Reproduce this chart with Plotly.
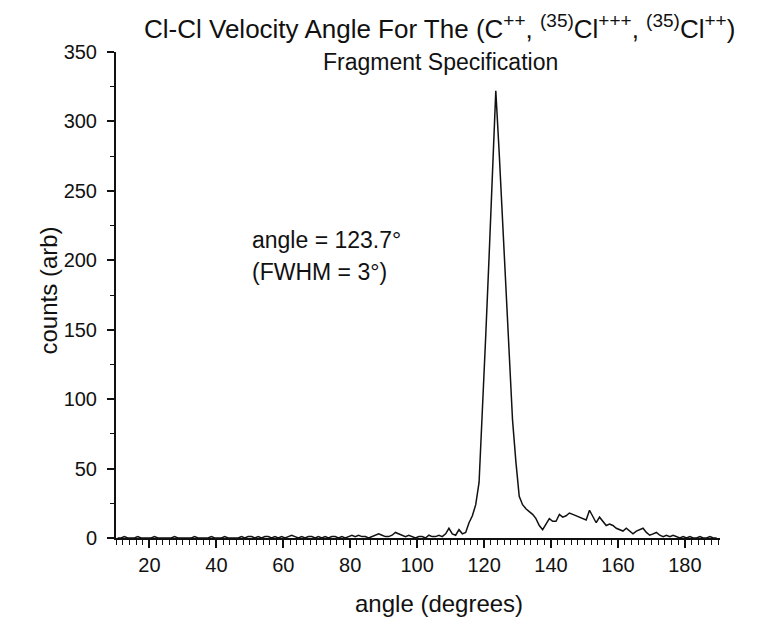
import plotly.graph_objects as go

# Data: angle bin centres (degrees) and counts
angles = [10.5 + i for i in range(180)]
counts = [
    # 10.5 - 49.5
    0, 0, 1, 0, 0, 0, 1, 0, 0, 0,
    0, 1, 0, 0, 0, 0, 0, 1, 0, 0,
    0, 0, 0, 1, 0, 0, 0, 0, 1, 0,
    0, 0, 1, 0, 0, 0, 0, 1, 0, 1,
    # 50.5 - 79.5
    1, 0, 1, 0, 1, 1, 0, 1, 0, 1,
    0, 1, 2, 1, 0, 1, 0, 1, 1, 0,
    1, 0, 1, 0, 1, 1, 0, 1, 0, 1,
    # 80.5 - 109.5
    2, 1, 2, 1, 1, 0, 1, 2, 3, 2,
    1, 1, 2, 4, 3, 2, 1, 2, 1, 0,
    1, 1, 0, 2, 1, 1, 2, 1, 3, 7,
    # 110.5 - 118.5
    3, 2, 6, 3, 4, 11, 16, 24, 40,
    # 119.5 - 189.5
    88, 146, 203, 262, 322, 278, 229, 180, 131, 85,
    55, 30, 24, 21, 19, 17, 14, 9, 6, 10,
    14, 12, 12, 17, 15, 16, 18, 17, 16, 15,
    14, 13, 20, 15, 11, 15, 12, 9, 10, 9,
    7, 6, 5, 7, 5, 3, 5, 6, 7, 4,
    2, 3, 4, 2, 1, 2, 1, 2, 1, 0,
    1, 0, 1, 0, 0, 1, 0, 0, 1, 0,
    0,
]

x_ticks = [20, 40, 60, 80, 100, 120, 140, 160, 180]
y_ticks = [0, 50, 100, 150, 200, 250, 300, 350]


def sup(t):
    return '<sup><span style="font-size:19px">' + t + '</span></sup>'


title_line1 = ("Cl-Cl Velocity Angle For The (C" + sup("++") + ", " + sup("(35)") + "Cl" + sup("+++")
               + ", " + sup("(35)") + "Cl" + sup("++") + ")")
title_line2 = "Fragment Specification"
note_line1 = "angle = 123.7°"
note_line2 = "(FWHM = 3°)"
x_title = "angle (degrees)"
y_title = "counts (arb)"

FONT = "Liberation Sans, Arial, sans-serif"
INK = "#111111"

fig = go.Figure()
fig.add_trace(go.Scatter(
    x=angles, y=counts, mode="lines",
    line=dict(color=INK, width=1.5),
    showlegend=False,
))

fig.update_layout(
    width=757, height=617,
    margin=dict(l=116, r=37, t=52, b=79),
    paper_bgcolor="white", plot_bgcolor="white",
    font=dict(family=FONT, color=INK, size=20),
    showlegend=False,
)

fig.update_xaxes(
    range=[10, 190.5],
    tickmode="array", tickvals=x_ticks, ticktext=[str(v) for v in x_ticks],
    ticks="outside", ticklen=8, tickwidth=2, tickcolor=INK,
    minor=dict(dtick=2, tick0=0, ticks="outside", ticklen=5, tickwidth=1.3, tickcolor=INK),
    showline=True, linecolor=INK, linewidth=2,
    showgrid=False, zeroline=False,
    tickfont=dict(size=20),
)
fig.update_yaxes(
    range=[0, 350],
    tickmode="array", tickvals=y_ticks, ticktext=[str(v) for v in y_ticks],
    ticks="outside", ticklen=7, tickwidth=2, tickcolor=INK,
    minor=dict(dtick=25, tick0=0, ticks="outside", ticklen=4, tickwidth=1.3, tickcolor=INK),
    showline=True, linecolor=INK, linewidth=2,
    showgrid=False, zeroline=False,
    tickfont=dict(size=20),
    ticklabelstandoff=6,
)

# Title (two lines)
fig.add_annotation(text=title_line1, xref="paper", yref="paper", x=0.535, y=1.052,
                   xanchor="center", yanchor="middle", showarrow=False, font=dict(size=26))
fig.add_annotation(text=title_line2, xref="paper", yref="paper", x=0.537, y=0.979,
                   xanchor="center", yanchor="middle", showarrow=False, font=dict(size=23))
# Axis titles
fig.add_annotation(text=x_title, xref="paper", yref="paper", x=0.535, y=-0.134,
                   xanchor="center", yanchor="middle", showarrow=False, font=dict(size=24))
fig.add_annotation(text=y_title, xref="paper", yref="paper", x=-0.112, y=0.51,
                   xanchor="center", yanchor="middle", textangle=-90, showarrow=False,
                   font=dict(size=24))
# Peak note
fig.add_annotation(text=note_line1, xref="x", yref="y", x=50.0, y=214.5,
                   xanchor="left", yanchor="middle", showarrow=False, font=dict(size=23))
fig.add_annotation(text=note_line2, xref="x", yref="y", x=50.0, y=191.5,
                   xanchor="left", yanchor="middle", showarrow=False, font=dict(size=23))

fig.write_html("out.html")
